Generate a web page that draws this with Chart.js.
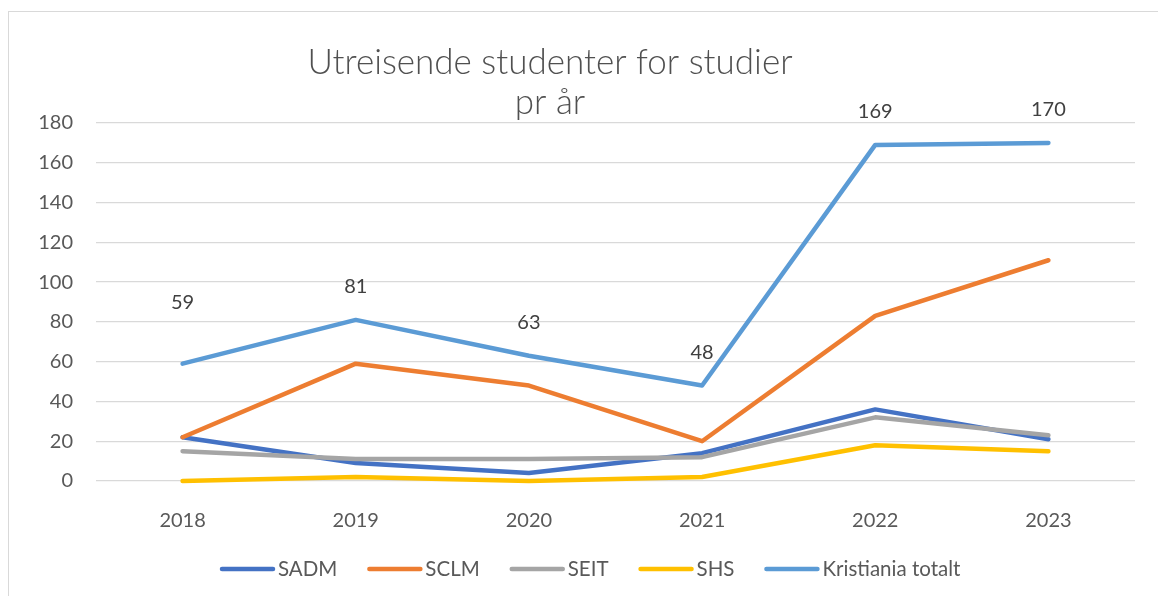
<!DOCTYPE html>
<html><head><meta charset="utf-8">
<script src="https://cdn.jsdelivr.net/npm/chart.js@4.4.1/dist/chart.umd.min.js"></script>
<style>html,body{margin:0;padding:0;background:#fff}#wrap{width:1158px;height:596px;position:relative}</style>
</head><body><div id="wrap"><canvas id="c" width="1158" height="596"></canvas></div>
<script>
const years = ['2018', '2019', '2020', '2021', '2022', '2023'];
const sadm = [22, 9, 4, 14, 36, 21];
const sclm = [22, 59, 48, 20, 83, 111];
const seit = [15, 11, 11, 12, 32, 23];
const shs = [0, 2, 0, 2, 18, 15];
const total = [59, 81, 63, 48, 169, 170];
const seriesNames = ['SADM', 'SCLM', 'SEIT', 'SHS', 'Kristiania totalt'];
const titleLines = ['Utreisende studenter for studier', 'pr år'];
const yMin = 0, yMax = 180, yStep = 20;

const colors = ['#4472C4', '#ED7D31', '#A5A5A5', '#FFC000', '#5B9BD5'];
const seriesData = [sadm, sclm, seit, shs, total];
const FONT = 'Lato, "Open Sans", sans-serif';
const TEXT = '#595959';

const extras = {
  id: 'extras',
  beforeDraw(chart) {
    const ctx = chart.ctx;
    ctx.save();
    ctx.fillStyle = '#fff';
    ctx.fillRect(0, 0, chart.width, chart.height);
    ctx.strokeStyle = '#d9d9d9';
    ctx.lineWidth = 1;
    ctx.strokeRect(8.5, 11.5, chart.width + 10, chart.height + 10);
    // title
    ctx.fillStyle = '#505050';
    ctx.font = '300 35px ' + FONT;
    ctx.textAlign = 'center';
    ctx.textBaseline = 'alphabetic';
    ctx.fillText(titleLines[0], 550, 74);
    ctx.fillText(titleLines[1], 550, 114);
    ctx.restore();
  },
  afterDatasetsDraw(chart) {
    const ctx = chart.ctx;
    ctx.save();
    // data labels for total series
    const meta = chart.getDatasetMeta(4);
    ctx.font = '20px ' + FONT;
    ctx.fillStyle = '#404040';
    ctx.textAlign = 'center';
    ctx.textBaseline = 'middle';
    meta.data.forEach((pt, i) => {
      const off = i === 0 ? 61 : 33;
      ctx.fillText(String(chart.data.datasets[4].data[i]), pt.x, pt.y - off);
    });
    // legend
    let x = 220;
    const y = 569;
    ctx.font = '20.5px ' + FONT;
    ctx.textAlign = 'left';
    chart.data.datasets.forEach((ds) => {
      ctx.strokeStyle = ds.borderColor;
      ctx.lineWidth = 4.5;
      ctx.lineCap = 'round';
      ctx.beginPath();
      ctx.moveTo(x + 2, y);
      ctx.lineTo(x + 53, y);
      ctx.stroke();
      x += 58;
      ctx.fillStyle = TEXT;
      ctx.fillText(ds.label, x, y);
      x += ctx.measureText(ds.label).width + 30;
    });
    ctx.restore();
  }
};

new Chart(document.getElementById('c'), {
  type: 'line',
  data: {
    labels: years,
    datasets: seriesNames.map((name, i) => ({
      label: name,
      data: seriesData[i],
      borderColor: colors[i],
      backgroundColor: colors[i],
      borderWidth: 4.5,
      pointRadius: 0,
      tension: 0,
      clip: false,
      borderJoinStyle: 'round',
      borderCapStyle: 'round',
      order: 5 - i
    }))
  },
  options: {
    responsive: false,
    animation: false,
    devicePixelRatio: 1,
    layout: { padding: { left: 0, right: 23, top: 123, bottom: 0 } },
    plugins: { legend: { display: false }, title: { display: false }, tooltip: { enabled: false } },
    scales: {
      x: {
        offset: true,
        grid: { display: false },
        border: { display: false },
        ticks: { color: TEXT, font: { family: FONT, size: 20 }, padding: 20 },
        afterFit(s) { s.height = 115; }
      },
      y: {
        min: yMin, max: yMax,
        grid: { color: '#d9d9d9', lineWidth: 1.3, drawTicks: false },
        border: { display: false },
        ticks: { stepSize: yStep, color: TEXT, font: { family: FONT, size: 20 }, padding: 23 },
        afterFit(s) { s.width = 96; }
      }
    }
  },
  plugins: [extras]
});
</script></body></html>
